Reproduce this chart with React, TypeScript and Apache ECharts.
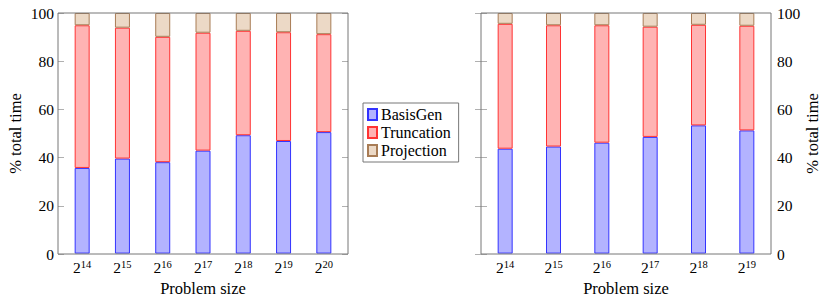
import React, { useEffect, useRef } from "react";
import * as echarts from "echarts";

// Tick labels: problem size = 2^exponent
const leftExponents = [14, 15, 16, 17, 18, 19, 20];
const rightExponents = [14, 15, 16, 17, 18, 19];

const seriesNames = ["BasisGen", "Truncation", "Projection"];

// Left panel (% total time)
const leftBasisGen = [35.6, 39.5, 38.0, 42.8, 49.2, 46.8, 50.5];
const leftTruncation = [59.3, 54.4, 52.1, 49.0, 43.4, 45.2, 40.7];
const leftProjection = [5.1, 6.1, 9.9, 8.2, 7.4, 8.0, 8.8];

// Right panel (% total time)
const rightBasisGen = [43.6, 44.5, 46.1, 48.5, 53.3, 51.2];
const rightTruncation = [51.9, 50.4, 48.8, 45.8, 41.8, 43.5];
const rightProjection = [4.5, 5.1, 5.1, 5.7, 4.9, 5.3];

const FONT = '"Liberation Serif", "Times New Roman", Times, serif';
const FS = 15.5;
const NAME_FS = 16.5;
const LEGEND_FS = 16;

const fills = ["#b3b3ff", "#ffb3b3", "#ecd9c6"];
const strokes = ["#3333ff", "#ff3333", "#a87c55"];

const FRAME_TOP = 13;
const FRAME_H = 241;
const FRAME_W = 290;
const LEFT_X = 58;
const RIGHT_X = 481;

export default function App() {
  const ref = useRef<HTMLDivElement>(null);

  useEffect(() => {
    document.body.style.margin = "0";
    if (!ref.current) return;
    const chart = echarts.init(ref.current, undefined, { renderer: "svg" });

    // pgfplots enlarges x limits by 10% of the range; emulate with an inset data grid
    const dataGrid = (frameLeft: number, n: number) => {
      const band = FRAME_W / ((n - 1) * 1.2);
      const inset = (0.1 * (n - 1) - 0.5) * band;
      return { left: frameLeft + inset, top: FRAME_TOP, width: FRAME_W - 2 * inset, height: FRAME_H, show: false };
    };
    const frameGrid = (frameLeft: number) => ({
      left: frameLeft,
      top: FRAME_TOP,
      width: FRAME_W,
      height: FRAME_H,
      show: true,
      borderColor: "#777777",
      borderWidth: 1,
      backgroundColor: "transparent",
      z: 3,
    });

    const tickStyle = { color: "#b0b0b0", width: 1 };

    const hiddenX = (gridIndex: number) => ({
      type: "value" as const,
      gridIndex,
      min: 0,
      max: 1,
      show: false,
    });

    const catX = (gridIndex: number, exps: number[]) => ({
      type: "category" as const,
      gridIndex,
      data: exps.map((e) => `{a|2}{b|${e}}`),
      axisLine: { show: false },
      axisTick: { show: false },
      splitLine: { show: false },
      name: "Problem size",
      nameLocation: "middle" as const,
      nameGap: 24,
      nameTextStyle: { fontFamily: FONT, fontSize: NAME_FS, color: "#000" },
      axisLabel: {
        interval: 0,
        margin: 5,
        fontFamily: FONT,
        rich: {
          a: { fontFamily: FONT, fontSize: FS, color: "#000", lineHeight: 17 },
          b: { fontFamily: FONT, fontSize: 10.5, color: "#000", verticalAlign: "top", lineHeight: 11 },
        },
      },
    });

    const yMain = (gridIndex: number, position: "left" | "right") => ({
      type: "value" as const,
      gridIndex,
      position,
      min: 0,
      max: 100,
      interval: 20,
      axisLine: { show: false },
      axisTick: { show: true, inside: true, length: 6, lineStyle: tickStyle },
      splitLine: { show: false },
      axisLabel: {
        margin: position === "left" ? 4 : 6,
        fontFamily: FONT,
        fontSize: FS,
        color: "#000",
      },
      name: "% total time",
      nameLocation: "middle" as const,
      nameGap: position === "left" ? 34 : 33,
      nameRotate: 90,
      nameTextStyle: { fontFamily: FONT, fontSize: NAME_FS, color: "#000" },
    });

    const yMirror = (gridIndex: number, position: "left" | "right") => ({
      type: "value" as const,
      gridIndex,
      position,
      min: 0,
      max: 100,
      interval: 20,
      axisLine: { show: false },
      axisTick: { show: true, inside: true, length: 6, lineStyle: tickStyle },
      splitLine: { show: false },
      axisLabel: { show: false },
    });

    const yHidden = (gridIndex: number) => ({
      type: "value" as const,
      gridIndex,
      min: 0,
      max: 100,
      show: false,
    });

    const makeSeries = (xAxisIndex: number, yAxisIndex: number, stack: string, arrays: number[][]) =>
      arrays.map((arr, k) => ({
        name: seriesNames[k],
        type: "bar" as const,
        xAxisIndex,
        yAxisIndex,
        stack,
        barWidth: 15,
        data: arr,
        itemStyle: { color: fills[k], borderColor: strokes[k], borderWidth: 1 },
        emphasis: { disabled: true },
      }));

    chart.setOption({
      animation: false,
      textStyle: { fontFamily: FONT },
      grid: [
        frameGrid(LEFT_X),
        dataGrid(LEFT_X, leftExponents.length),
        frameGrid(RIGHT_X),
        dataGrid(RIGHT_X, rightExponents.length),
      ],
      xAxis: [hiddenX(0), catX(1, leftExponents), hiddenX(2), catX(3, rightExponents)],
      yAxis: [
        yMain(0, "left"),
        yMirror(0, "right"),
        yHidden(1),
        yMain(2, "right"),
        yMirror(2, "left"),
        yHidden(3),
      ],
      legend: {
        left: 363,
        top: 103,
        orient: "vertical",
        icon: "rect",
        itemWidth: 9,
        itemHeight: 11,
        itemGap: 1,
        padding: [3, 8, 3, 4],
        backgroundColor: "#fff",
        borderColor: "#777777",
        borderWidth: 1,
        selectedMode: false,
        data: seriesNames,
        textStyle: { fontFamily: FONT, fontSize: LEGEND_FS, color: "#000", lineHeight: 17, padding: [0, 0, 0, -1] },
      },
      series: [
        ...makeSeries(1, 2, "left", [leftBasisGen, leftTruncation, leftProjection]),
        ...makeSeries(3, 5, "right", [rightBasisGen, rightTruncation, rightProjection]),
      ],
    });

    return () => chart.dispose();
  }, []);

  return <div ref={ref} style={{ width: 830, height: 302 }} />;
}
